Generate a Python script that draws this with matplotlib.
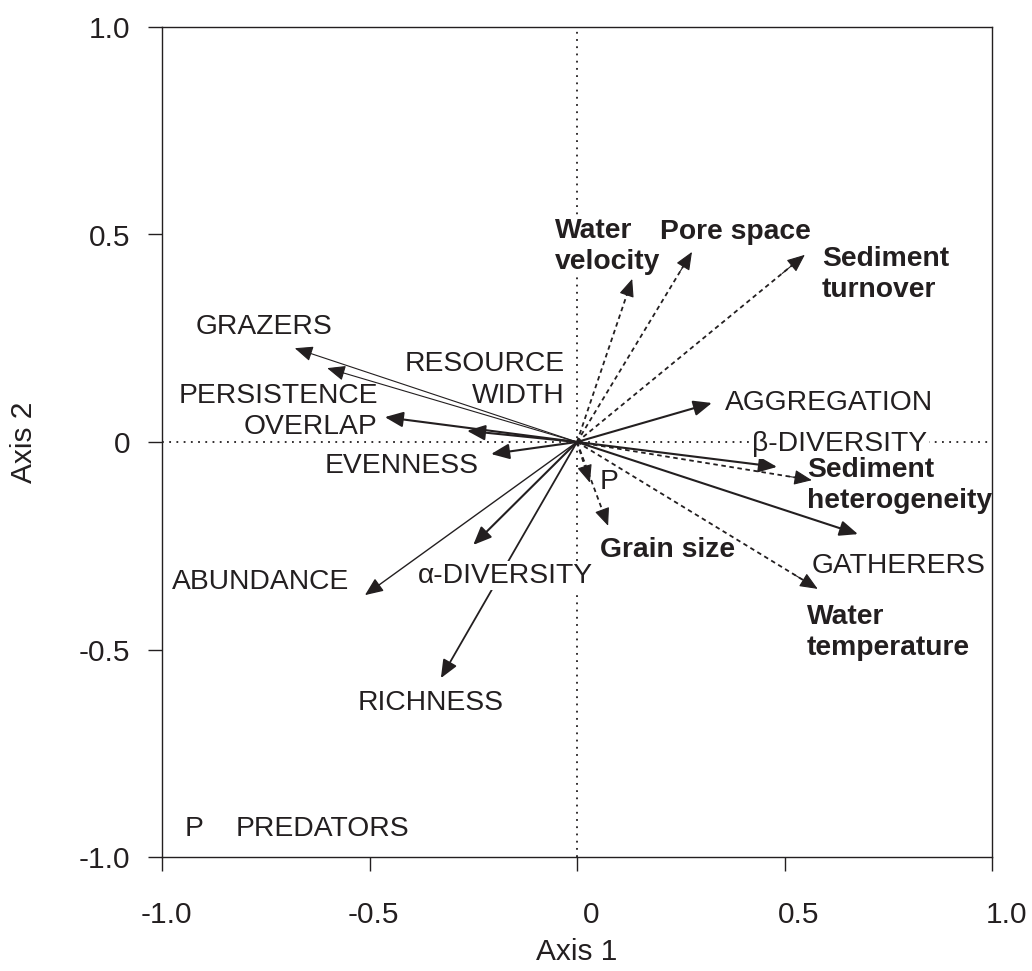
import matplotlib
matplotlib.use("Agg")
import matplotlib.pyplot as plt
import matplotlib.transforms as mtransforms

plt.rcParams['font.family'] = ['Liberation Sans', 'DejaVu Sans']

INK = '#231f20'

# community descriptors (solid arrows)
bio_names = ['GRAZERS', 'PERSISTENCE', 'OVERLAP', 'RESOURCE\nWIDTH', 'EVENNESS',
             'ABUNDANCE', 'α-DIVERSITY', 'RICHNESS', 'AGGREGATION',
             'β-DIVERSITY', 'GATHERERS']
bio_x = [-0.680, -0.602, -0.463, -0.265, -0.207, -0.511, -0.250, -0.328, 0.325, 0.482, 0.677]
bio_y = [0.226, 0.178, 0.060, 0.027, -0.029, -0.369, -0.248, -0.569, 0.094, -0.060, -0.222]

# environmental variables (dashed arrows)
env_names = ['Water\nvelocity', 'Pore space', 'Sediment\nturnover', 'Sediment\nheterogeneity',
             'Water\ntemperature', 'Grain size', 'P']
env_x = [0.133, 0.277, 0.549, 0.566, 0.580, 0.075, 0.031]
env_y = [0.393, 0.458, 0.451, -0.092, -0.354, -0.202, -0.098]

# label anchors
bio_label_xy = [(-0.918, 0.277, 'left'), (-0.961, 0.111, 'left'), (-0.480, 0.037, 'right'),
                (-0.029, 0.149, 'right'), (-0.607, -0.059, 'left'), (-0.975, -0.337, 'left'),
                (-0.383, -0.322, 'left'), (-0.528, -0.629, 'left'), (0.356, 0.094, 'left'),
                (0.422, -0.006, 'left'), (0.566, -0.299, 'left')]
bio_lw = [0.8, 0.8, 1.5, 1.5, 1.5, 1.0, 1.5, 1.3, 1.5, 1.5, 1.5]
env_label_xy = [(-0.053, 0.471), (0.200, 0.506), (0.590, 0.404), (0.554, -0.104),
                (0.554, -0.459), (0.055, -0.260), (0.055, -0.097)]

ticks = [-1.0, -0.5, 0.0, 0.5, 1.0]
tick_labels = ['-1.0', '-0.5', '0', '0.5', '1.0']

FS = 20.3
HEAD = '-|>,head_length=0.85,head_width=0.36'
WHITE_BOX = dict(facecolor='white', edgecolor='none', pad=1)

fig = plt.figure(figsize=(10.32, 9.71), dpi=100)
ax = fig.add_axes([162 / 1032, 1 - 857 / 971, 830 / 1032, 830 / 971])
ax.set_xlim(-1, 1)
ax.set_ylim(-1, 1)

# dotted cross through origin
ax.plot([-1, 1], [0, 0], color=INK, lw=1.3, ls=(0, (1, 3)), zorder=1)
ax.plot([0, 0], [-1, 1], color=INK, lw=1.3, ls=(0, (1, 3)), zorder=1)

for x, y, lw in zip(bio_x, bio_y, bio_lw):
    ax.annotate('', xy=(x, y), xytext=(0, 0),
                arrowprops=dict(arrowstyle=HEAD, color=INK, lw=lw, shrinkA=0, shrinkB=0,
                                mutation_scale=13), zorder=3)

for x, y in zip(env_x, env_y):
    ax.plot([0, x * 0.95], [0, y * 0.95], color=INK, lw=1.3, ls=(0, (2.5, 2)), zorder=3)
    ax.annotate('', xy=(x, y), xytext=(x * 0.9, y * 0.9),
                arrowprops=dict(arrowstyle=HEAD, color=INK, lw=0.8, shrinkA=0, shrinkB=0,
                                mutation_scale=13), zorder=3)

for name, (lx, ly, ha) in zip(bio_names, bio_label_xy):
    kw = {}
    if 'DIVERSITY' in name:
        kw['bbox'] = WHITE_BOX
    ax.text(lx, ly, name, ha=ha, va='center', multialignment=ha, fontsize=FS,
            color=INK, linespacing=1.3, zorder=4, **kw)

for name, (lx, ly) in zip(env_names, env_label_xy):
    weight = 'normal' if name == 'P' else 'bold'
    kw = {}
    if name == 'Water\nvelocity':
        kw['bbox'] = WHITE_BOX
    ax.text(lx, ly, name, ha='left', va='center', fontsize=FS, fontweight=weight,
            color=INK, linespacing=1.25, zorder=4, **kw)

ax.text(-0.945, -0.933, 'P', ha='left', va='center', fontsize=FS, color=INK)
ax.text(-0.822, -0.933, 'PREDATORS', ha='left', va='center', fontsize=FS, color=INK)

ax.set_xticks(ticks)
ax.set_xticklabels(tick_labels)
ax.set_yticks(ticks)
ax.set_yticklabels(tick_labels)
ax.tick_params(direction='out', length=10, width=1, color=INK, labelcolor=INK,
               labelsize=21.5)
ax.tick_params(axis='y', pad=13)
ax.tick_params(axis='x', pad=22)

# labels of non-negative x ticks sit a bit further right, as in the source
for lab, v in zip(ax.get_xticklabels(), ticks):
    dx = 14 if v >= 0 else 4
    lab.set_transform(lab.get_transform() +
                      mtransforms.ScaledTranslation(dx / 100, 0, fig.dpi_scale_trans))

for sp in ax.spines.values():
    sp.set_linewidth(1.0)
    sp.set_color(INK)

ax.set_xlabel('Axis 1', fontsize=21.5, color=INK, labelpad=6)
ax.set_ylabel('Axis 2', fontsize=21.5, color=INK, labelpad=29)

fig.savefig('out.png', dpi=100)
